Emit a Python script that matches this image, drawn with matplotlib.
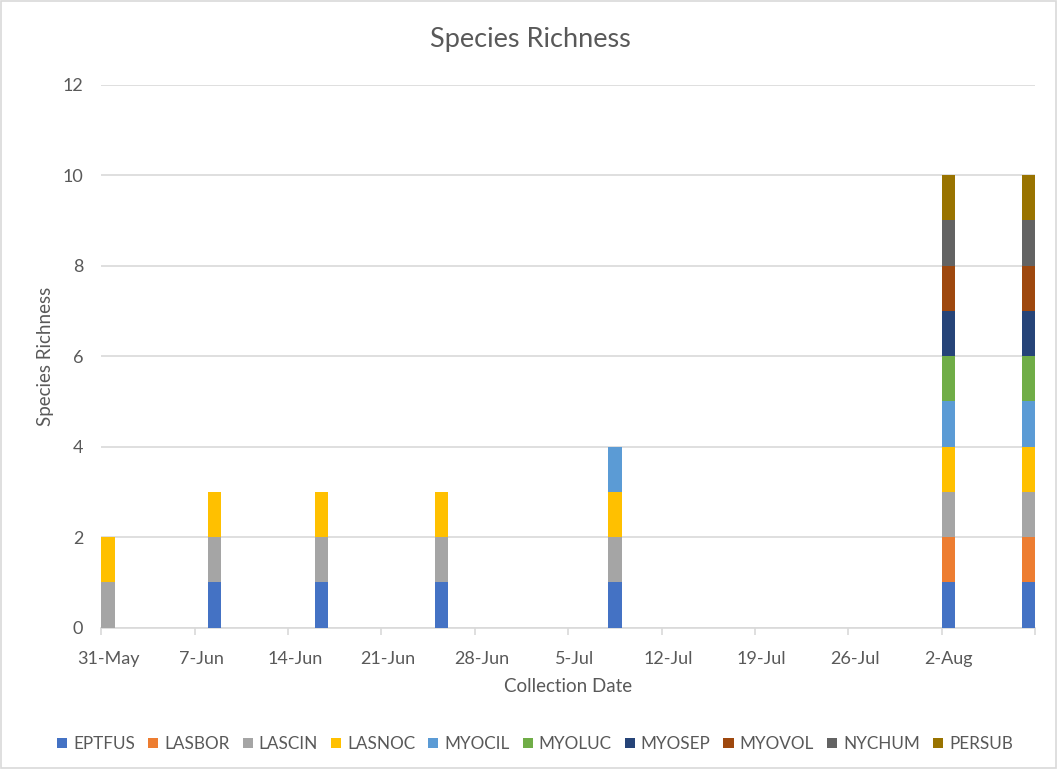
import datetime as dt
import matplotlib
matplotlib.use("Agg")
import matplotlib.pyplot as plt
import matplotlib.dates as mdates
from matplotlib.patches import Rectangle

plt.rcParams['font.family'] = ['Lato', 'DejaVu Sans']

# Collection dates and species detected (1 = present)
dates = ["2019-05-31", "2019-06-08", "2019-06-16", "2019-06-25",
         "2019-07-08", "2019-08-02", "2019-08-08"]
species = ["EPTFUS", "LASBOR", "LASCIN", "LASNOC", "MYOCIL",
           "MYOLUC", "MYOSEP", "MYOVOL", "NYCHUM", "PERSUB"]
EPTFUS = [0, 1, 1, 1, 1, 1, 1]
LASBOR = [0, 0, 0, 0, 0, 1, 1]
LASCIN = [1, 1, 1, 1, 1, 1, 1]
LASNOC = [1, 1, 1, 1, 1, 1, 1]
MYOCIL = [0, 0, 0, 0, 1, 1, 1]
MYOLUC = [0, 0, 0, 0, 0, 1, 1]
MYOSEP = [0, 0, 0, 0, 0, 1, 1]
MYOVOL = [0, 0, 0, 0, 0, 1, 1]
NYCHUM = [0, 0, 0, 0, 0, 1, 1]
PERSUB = [0, 0, 0, 0, 0, 1, 1]
series = [EPTFUS, LASBOR, LASCIN, LASNOC, MYOCIL,
          MYOLUC, MYOSEP, MYOVOL, NYCHUM, PERSUB]
colors = ["#4472C4", "#ED7D31", "#A5A5A5", "#FFC000", "#5B9BD5",
          "#70AD47", "#264478", "#9E480E", "#636363", "#997300"]

x_start = dt.date(2019, 5, 31)
x_end = dt.date(2019, 8, 9)

TXT = "#595959"
GRID = "#D9D9D9"
W, H = 1062, 771

fig = plt.figure(figsize=(W / 100, H / 100), dpi=100)
fig.patch.set_facecolor("white")
ax = fig.add_axes([101.3 / W, 1 - 627.7 / H, (1035 - 101.3) / W, (627.7 - 84.7) / H])

xd = [mdates.date2num(dt.date.fromisoformat(d)) for d in dates]
bottom = [0] * len(dates)
for name, vals, col in zip(species, series, colors):
    ax.bar(xd, vals, width=1.0, align="edge", bottom=bottom, color=col,
           label=name, linewidth=0, zorder=3)
    bottom = [b + v for b, v in zip(bottom, vals)]

ax.set_xlim(mdates.date2num(x_start), mdates.date2num(x_end))
ax.set_ylim(0, 12)
ax.set_yticks(range(0, 13, 2))

# weekly ticks at slot boundaries, labels centred on the day slot
ticks = [mdates.date2num(x_start + dt.timedelta(days=7 * i)) for i in range(11)]
ax.set_xticks(ticks)
ax.set_xticklabels([])
ax.set_xticks([t + 0.5 for t in ticks[:-1]], minor=True)
ax.set_xticklabels([(x_start + dt.timedelta(days=7 * i)).strftime("%-d-%b") for i in range(10)],
                   minor=True)
ax.tick_params(axis="x", which="major", length=5, color=GRID, width=1.2)
ax.tick_params(axis="x", which="minor", length=0, pad=17, labelsize=13, labelcolor=TXT)
ax.tick_params(axis="y", length=0, pad=13, labelsize=13, labelcolor=TXT)

ax.grid(axis="y", color=GRID, linewidth=1.2, zorder=0)
for s in ["top", "right", "left"]:
    ax.spines[s].set_visible(False)
ax.spines["bottom"].set_color(GRID)
ax.spines["bottom"].set_linewidth(1.2)

fig.text(530 / W, 1 - 39 / H, "Species Richness", fontsize=19.5, color=TXT,
         ha="center", va="center")
fig.text(568 / W, 1 - 686 / H, "Collection Date", fontsize=13.5, color=TXT,
         ha="center", va="center")
fig.text(45 / W, 1 - 356 / H, "Species Richness", fontsize=13.5, color=TXT,
         ha="center", va="center", rotation=90)

fig.legend(loc="center", bbox_to_anchor=(535 / W, 1 - 744 / H), ncol=10, frameon=False,
           fontsize=12.3, labelcolor=TXT, handlelength=0.6, handleheight=0.6,
           handletextpad=0.35, columnspacing=0.75)

# chart area border
fig.patches.append(Rectangle((1 / W, 3 / H), 1055 / W, 767 / H,
                             transform=fig.transFigure, fill=False,
                             edgecolor=GRID, linewidth=1.2))

fig.savefig("out.png", dpi=100)
